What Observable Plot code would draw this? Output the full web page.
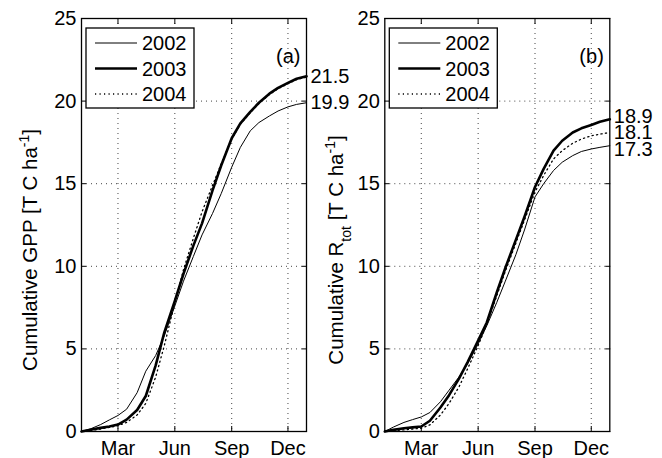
<!DOCTYPE html>
<html><head><meta charset="utf-8">
<script src="https://cdn.jsdelivr.net/npm/d3@7"></script>
<script src="https://cdn.jsdelivr.net/npm/@observablehq/plot@0.6"></script>
<style>
html,body{margin:0;padding:0;background:#fff;}
#wrap{position:relative;width:662px;height:458px;overflow:hidden;background:#fff;}
#wrap svg{position:absolute;top:0;}
</style></head><body><div id="wrap"></div>
<script>
// day of year
const days = [1,15,32,46,60,74,91,105,121,135,152,166,182,196,213,227,244,258,274,288,305,319,335,349,365];
const years = ["2002","2003","2004"];
// Cumulative GPP [T C ha-1]
const gpp2002 = [0,0.15,0.42,0.7,0.97,1.35,2.35,3.65,4.6,5.8,7.6,9.1,10.6,11.9,13.2,14.4,16.0,17.2,18.2,18.7,19.1,19.4,19.65,19.8,19.9];
const gpp2003 = [0,0.1,0.22,0.3,0.42,0.72,1.3,2.15,4.0,6.0,7.9,9.55,11.25,12.6,14.6,16.1,17.75,18.65,19.35,19.9,20.45,20.8,21.1,21.35,21.5];
const gpp2004 = [0,0.05,0.15,0.25,0.35,0.55,1.0,1.7,3.3,5.2,7.8,9.8,11.7,13.3,14.9,16.2,17.7,18.6,19.3,19.85,20.4,20.75,21.05,21.3,21.45];
// Cumulative R_tot [T C ha-1]
const rtot2002 = [0,0.27,0.55,0.72,0.88,1.15,1.8,2.5,3.3,4.1,5.3,6.4,7.8,9.1,10.7,12.2,14.2,15.0,15.8,16.3,16.7,16.95,17.1,17.2,17.3];
const rtot2003 = [0,0.1,0.2,0.25,0.3,0.65,1.45,2.2,3.2,4.2,5.5,6.6,8.4,9.9,11.6,13.0,14.8,15.9,17.0,17.6,18.1,18.35,18.55,18.75,18.9];
const rtot2004 = [0,0.05,0.1,0.15,0.2,0.4,1.0,1.7,2.7,3.8,5.2,6.5,8.2,9.7,11.4,12.8,14.5,15.5,16.5,17.0,17.45,17.7,17.9,18.0,18.1];
// end-of-year totals printed at right
const gppEnds = [21.5, 19.9];
const rtotEnds = [18.9, 18.1, 17.3];
// axes
const monthTicks = [60,152,244,335];
const monthLabels = ["Mar","Jun","Sep","Dec"];
const yTicks = [0,5,10,15,20,25];
const yGrid = [5,10,15,20];

const FONT = "'Liberation Sans', Arial, Helvetica, sans-serif";
const FS = 20;

function rows(arr){ return days.map((d,j)=>({day:d, value:arr[j]})); }

function panel({series, ends, endDy, tag, mLeft, mRight, left, ylabel}) {
  const gridStyle = {stroke:"#444", strokeOpacity:1, strokeWidth:1, strokeDasharray:"1,4"};
  const lastDay = days[days.length-1];
  const svg = Plot.plot({
    width: 331, height: 458,
    marginLeft: mLeft, marginRight: mRight, marginTop: 18, marginBottom: 27,
    style: {fontFamily: FONT, fontSize: FS+"px", background: "transparent", overflow: "visible", color:"#000"},
    x: {domain: [1,365]},
    y: {domain: [0,25]},
    marks: [
      Plot.gridX(monthTicks, gridStyle),
      Plot.gridY(yGrid, gridStyle),
      Plot.line(rows(series[0]), {x:"day", y:"value", stroke:"#000", strokeWidth:1}),
      Plot.line(rows(series[2]), {x:"day", y:"value", stroke:"#000", strokeWidth:1.3, strokeDasharray:"1.2,3.3"}),
      Plot.line(rows(series[1]), {x:"day", y:"value", stroke:"#000", strokeWidth:2.6}),
      Plot.frame({stroke:"#000", strokeWidth:1.3}),
      Plot.axisX(monthTicks, {anchor:"bottom", tickSize:0, tickPadding:9, label:null, fontSize:FS,
        tickFormat: d => monthLabels[monthTicks.indexOf(d)]}),
      Plot.axisX(monthTicks, {anchor:"bottom", tickSize:5, dy:-5, label:null, tickFormat: () => ""}),
      Plot.axisX(monthTicks, {anchor:"top", tickSize:5, dy:5, label:null, tickFormat: () => ""}),
      Plot.axisY(yTicks, {anchor:"left", tickSize:0, tickPadding:5, label:null, fontSize:FS}),
      Plot.axisY(yTicks, {anchor:"left", tickSize:5, dx:5, label:null, tickFormat: () => ""}),
      Plot.axisY(yTicks, {anchor:"right", tickSize:5, dx:-5, label:null, tickFormat: () => ""}),
      ...ends.map((v,i) => Plot.text([{day: lastDay, value: v}], {
        x:"day", y:"value", text: d => d.value.toFixed(1), textAnchor:"start", dx:4,
        dy: endDy[i], fontSize: FS, fill:"#000"})),
      Plot.text([tag], {text: d => d, frameAnchor:"top-right", dx:-6, dy:38, lineAnchor:"middle", textAnchor:"end", fontSize:FS, fill:"#000"})
    ]
  });
  svg.style.left = left + "px";
  const s = d3.select(svg);
  // legend
  const lx = mLeft + 5, ly = 28;
  const lg = s.append("g").attr("text-anchor", "start");
  lg.append("rect").attr("x", lx).attr("y", ly).attr("width", 108).attr("height", 80)
    .attr("fill", "#fff").attr("stroke", "#000").attr("stroke-width", 1.3);
  const styles = [{w:1, da:null},{w:2.6, da:null},{w:1.3, da:"1.2,3.3"}];
  years.forEach((yr, i) => {
    const y = ly + 15 + i * 25.5;
    lg.append("line").attr("x1", lx+9).attr("x2", lx+51).attr("y1", y).attr("y2", y)
      .attr("stroke", "#000").attr("stroke-width", styles[i].w)
      .attr("stroke-dasharray", styles[i].da);
    lg.append("text").attr("x", lx+56).attr("y", y).attr("dy", "0.35em")
      .attr("text-anchor", "start").attr("font-size", FS).attr("fill", "#000").text(yr);
  });
  // y label with super/subscripts
  const t = s.append("text").attr("transform", `translate(${ylabel.x},250) rotate(-90)`)
    .attr("text-anchor", "middle").attr("font-size", 20.5).attr("fill", "#000");
  ylabel.parts.forEach(p => {
    const ts = t.append("tspan").text(p.t);
    if (p.shift) ts.attr("baseline-shift", p.shift).attr("font-size", 14);
  });
  return svg;
}

const wrap = document.getElementById("wrap");
const a = panel({series:[gpp2002,gpp2003,gpp2004], ends:gppEnds, endDy:[0,0], tag:"(a)",
  mLeft:81, mRight:25, left:0,
  ylabel:{x:37, parts:[{t:"Cumulative GPP [T C ha"},{t:"-1", shift:"super"},{t:"]"}]}});
const b = panel({series:[rtot2002,rtot2003,rtot2004], ends:rtotEnds, endDy:[-2.5,0,3.5], tag:"(b)",
  mLeft:53.3, mRight:52.7, left:331,
  ylabel:{x:12, parts:[{t:"Cumulative R"},{t:"tot", shift:"sub"},{t:" [T C ha"},{t:"-1", shift:"super"},{t:"]"}]}});
wrap.appendChild(a);
wrap.appendChild(b);
</script>
</body></html>
